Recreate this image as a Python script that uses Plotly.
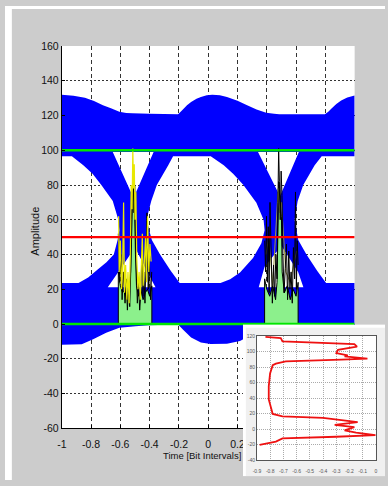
import plotly.graph_objects as go

# ---------------- data ----------------
# outer envelope of the eye diagram
UP_T = [-1.0, -0.92, -0.842, -0.78, -0.719, -0.66, -0.607, -0.56, -0.518, -0.40, -0.206, -0.19, -0.173,
        -0.145, -0.117, -0.08, -0.05, -0.01, 0.028, 0.08, 0.128, 0.20, 0.262, 0.33, 0.396, 0.45, 0.485,
        0.797, 0.82, 0.842, 0.875, 0.908, 0.95, 1.0]
UP_V = [131.9, 131.4, 130.2, 128.3, 125.9, 124.0, 122.2, 121.5, 121.3, 121.0, 120.7, 122.0, 123.5,
        125.9, 127.8, 129.6, 130.6, 131.6, 131.9, 131.6, 130.6, 128.5, 126.0, 123.5, 121.6, 121.0, 120.7,
        120.7, 122.2, 124.1, 126.6, 128.7, 130.3, 131.5]
LO_T = [-1.0, -0.864, -0.786, -0.697, -0.607, -0.496, -0.407, -0.206, -0.173, -0.117, -0.05, 0.017,
        0.128, 0.217, 0.30, 0.39, 0.50, 0.60, 0.79, 0.83, 0.88, 0.95, 1.0]
LO_V = [-11.9, -11.7, -8.8, -5.0, -2.2, -1.3, -0.7, -0.3, -3.1, -7.8, -10.6, -11.5,
        -11.3, -9.7, -6.0, -2.5, -1.3, -0.7, -0.3, -3.0, -7.8, -10.6, -11.5]

# open (white) regions of the eye
LEFT_EYE_T = [-1.0, -0.931, -0.853, -0.79, -0.730, -0.652, -0.614, -0.607, -0.619, -0.645, -0.695,
              -0.753, -0.82, -0.886, -1.0]
LEFT_EYE_V = [96.6, 96.6, 91.4, 86.5, 80.0, 70.8, 60.0, 53.9, 48.3, 40.0, 35.5,
              31.5, 26.8, 23.6, 23.6]
CENTER_EYE_T = [-0.24, 0.017, 0.106, 0.17, 0.239, 0.329, 0.378, 0.385, 0.363, 0.306, 0.217, 0.15,
                0.084, -0.195, -0.255, -0.329, -0.385, -0.422, -0.389, -0.351, -0.273]
CENTER_EYE_V = [96.6, 96.6, 91.4, 86.5, 80.1, 69.8, 60.0, 53.9, 46.5, 38.0, 29.6, 25.8,
                23.6, 23.6, 30.5, 40.0, 48.3, 60.0, 70.8, 80.0, 91.4]
RIGHT_EYE_T = [0.775, 1.0, 1.0, 0.805, 0.745, 0.671, 0.615, 0.59, 0.611, 0.649, 0.727]
RIGHT_EYE_V = [96.6, 96.6, 23.6, 23.6, 30.5, 40.0, 48.3, 60.0, 70.8, 80.0, 91.4]
TOP_TRI1_T = [-0.652, -0.373, -0.51]
TOP_TRI1_V = [99.0, 99.0, 72.6]
TOP_TRI2_T = [0.34, 0.619, 0.49]
TOP_TRI2_V = [99.0, 99.0, 73.6]
BOT_TRI1_T = [-0.686, -0.614, -0.5, -0.385, -0.36]
BOT_TRI1_V = [21.2, 30.0, 44.0, 25.0, 21.2]
BOT_TRI2_T = [0.345, 0.385, 0.5, 0.614, 0.65]
BOT_TRI2_V = [21.2, 33.0, 45.0, 30.0, 21.2]

# jitter histograms at the crossings
FILL1_T = [-0.614, -0.614, -0.600, -0.585, -0.570, -0.555, -0.540, -0.530, -0.525, -0.518, -0.510,
           -0.503, -0.497, -0.490, -0.475, -0.460, -0.445, -0.430, -0.415, -0.400, -0.385, -0.385]
FILL1_V = [0, 30, 22, 18, 20, 14, 18, 30, 60, 75, 78, 70, 40, 22, 16, 20, 14, 18, 20, 16, 22, 0]
YEL1_T = [-0.612, -0.608, -0.600, -0.592, -0.584, -0.578, -0.572, -0.564, -0.556, -0.548, -0.540,
          -0.532, -0.526, -0.520, -0.515, -0.510, -0.505, -0.500, -0.494, -0.488, -0.480, -0.472,
          -0.464, -0.456, -0.450, -0.444, -0.436, -0.428, -0.422, -0.414, -0.406, -0.398, -0.390]
YEL1_V = [62, 30, 48, 20, 36, 70, 18, 34, 14, 30, 12, 40, 80, 66, 101, 78, 92, 60, 76, 38, 20, 30,
          14, 40, 52, 22, 34, 50, 24, 62, 30, 46, 36]
BLK1_T = [-0.614, -0.604, -0.596, -0.588, -0.580, -0.568, -0.560, -0.552, -0.544, -0.536, -0.528,
          -0.522, -0.517, -0.512, -0.507, -0.502, -0.497, -0.490, -0.484, -0.476, -0.468, -0.460,
          -0.452, -0.446, -0.440, -0.432, -0.424, -0.418, -0.410, -0.402, -0.394, -0.386]
BLK1_V = [52, 24, 40, 14, 30, 12, 26, 8, 22, 10, 34, 58, 72, 88, 64, 80, 50, 28, 12, 24, 8, 18,
          44, 16, 30, 12, 40, 64, 20, 36, 14, 30]

FILL2_T = [0.385, 0.385, 0.40, 0.42, 0.44, 0.46, 0.47, 0.475, 0.482, 0.49, 0.50, 0.505, 0.52, 0.54,
           0.56, 0.58, 0.60, 0.614, 0.614]
FILL2_V = [0, 26, 20, 16, 22, 14, 24, 60, 82, 70, 62, 30, 18, 22, 14, 20, 16, 24, 0]
BLK2_T = [0.386, 0.392, 0.398, 0.404, 0.410, 0.416, 0.422, 0.430, 0.438, 0.446, 0.454, 0.462, 0.470,
          0.476, 0.481, 0.486, 0.492, 0.498, 0.504, 0.510, 0.518, 0.526, 0.534, 0.542, 0.550, 0.558,
          0.566, 0.574, 0.582, 0.590, 0.596, 0.602, 0.608, 0.614]
BLK2_V = [48, 30, 62, 24, 56, 18, 70, 28, 12, 34, 16, 40, 26, 70, 101, 82, 60, 88, 74, 40, 18, 32,
          46, 14, 42, 20, 30, 12, 44, 26, 76, 20, 48, 34]
YEL2_T = [0.394, 0.414, 0.440, 0.478, 0.488, 0.500, 0.530, 0.560, 0.588, 0.604]
YEL2_V = [40, 50, 22, 78, 64, 70, 30, 24, 36, 42]

# reference levels
LEVEL_LOW = 0
LEVEL_MID = 50
LEVEL_HIGH = 100

# inset curve
INSET_X = [-0.836, -0.720, -0.707, -0.45, -0.312, -0.163, -0.143, -0.287, -0.299, -0.213, -0.237,
           -0.064, -0.262, -0.682, -0.757, -0.781, -0.801, -0.811, -0.811, -0.794, -0.781, -0.707,
           -0.40, -0.138, -0.312, -0.163, -0.237, -0.150, -0.003, -0.30, -0.707, -0.757, -0.831, -0.880]
INSET_Y = [118.7, 117.1, 112.9, 111.5, 110.8, 109.5, 106.2, 102.0, 97.8, 94.9, 93.6,
           90.7, 89.4, 87.3, 84.4, 82.3, 71.8, 55.1, 38.3, 25.8, 19.5, 16.5,
           14.5, 9.0, 5.5, 2.7, -1.5, -4.4, -7.7, -9.8, -11.9, -16.1, -19.0, -20.3]

MAIN_XTICKS = [-1, -0.8, -0.6, -0.4, -0.2, 0, 0.2, 0.4, 0.6, 0.8, 1]
MAIN_XLABELS = ["-1", "-0.8", "-0.6", "-0.4", "-0.2", "0", "0.2", "0.4", "0.6", "0.8", "1"]
MAIN_YTICKS = [-60, -40, -20, 0, 20, 40, 60, 80, 100, 120, 140, 160]
MAIN_YLABELS = ["-60", "-40", "-20", "0", "20", "40", "60", "80", "100", "120", "140", "160"]
INSET_XTICKS = [-0.9, -0.8, -0.7, -0.6, -0.5, -0.4, -0.3, -0.2, -0.1, 0]
INSET_XLABELS = ["-0.9", "-0.8", "-0.7", "-0.6", "-0.5", "-0.4", "-0.3", "-0.2", "-0.1", "0"]
INSET_YTICKS = [-40, -20, 0, 20, 40, 60, 80, 100, 120]
INSET_YLABELS = ["-40", "-20", "0", "20", "40", "60", "80", "100", "120"]
X_TITLE = "Time [Bit Intervals]"
Y_TITLE = "Amplitude"

# ---------------- helpers ----------------
def signed_area(ts, vs):
    a = 0.0
    n = len(ts)
    for i in range(n):
        j = (i + 1) % n
        a += ts[i] * vs[j] - ts[j] * vs[i]
    return a / 2


def oriented(ts, vs, positive):
    ts, vs = list(ts), list(vs)
    if (signed_area(ts, vs) > 0) != positive:
        ts, vs = ts[::-1], vs[::-1]
    return ts, vs


FONT = "Liberation Sans Narrow, Liberation Sans, Arial, sans-serif"
W, H = 388, 486

fig = go.Figure()

# blue eye with holes
outer_t = UP_T + LO_T[::-1]
outer_v = UP_V + LO_V[::-1]
ot, ov = oriented(outer_t, outer_v, True)
px, py = list(ot), list(ov)
for ht, hv in [(LEFT_EYE_T, LEFT_EYE_V), (CENTER_EYE_T, CENTER_EYE_V), (RIGHT_EYE_T, RIGHT_EYE_V),
               (TOP_TRI1_T, TOP_TRI1_V), (TOP_TRI2_T, TOP_TRI2_V),
               (BOT_TRI1_T, BOT_TRI1_V), (BOT_TRI2_T, BOT_TRI2_V)]:
    a, b = oriented(ht, hv, False)
    px += [None] + a
    py += [None] + b
fig.add_trace(go.Scatter(x=px, y=py, mode="none", fill="toself", fillcolor="#0000FF",
                         xaxis="x", yaxis="y", hoverinfo="skip"))

# histograms
for ft, fv in [(FILL1_T, FILL1_V), (FILL2_T, FILL2_V)]:
    fig.add_trace(go.Scatter(x=ft, y=fv, mode="lines", fill="toself", fillcolor="#8CF08C",
                             line=dict(color="#000000", width=1), xaxis="x", yaxis="y"))
fig.add_trace(go.Scatter(x=BLK1_T, y=BLK1_V, mode="lines", line=dict(color="#000000", width=1)))
fig.add_trace(go.Scatter(x=YEL1_T, y=YEL1_V, mode="lines", line=dict(color="#E8E800", width=1.2)))
fig.add_trace(go.Scatter(x=YEL2_T, y=YEL2_V, mode="lines", line=dict(color="#9A9A40", width=1)))
fig.add_trace(go.Scatter(x=BLK2_T, y=BLK2_V, mode="lines", line=dict(color="#000000", width=1)))

# level lines
for lvl, col, w in [(LEVEL_LOW, "#00E600", 2.5), (LEVEL_HIGH, "#00E600", 2.5), (LEVEL_MID, "#FF0000", 2.2)]:
    fig.add_trace(go.Scatter(x=[MAIN_XTICKS[0], MAIN_XTICKS[-1]], y=[lvl, lvl], mode="lines",
                             line=dict(color=col, width=w)))

# inset panel background (subplot x2/y2)
fig.add_trace(go.Scatter(x=[0.02, 1, 1, 0.02], y=[0, 0, 0.98, 0.98], mode="none", fill="toself",
                         fillcolor="#F0F0F0", xaxis="x2", yaxis="y2", hoverinfo="skip"))
# inset curve (subplot x3/y3)
fig.add_trace(go.Scatter(x=INSET_X, y=INSET_Y, mode="lines", line=dict(color="#EE1111", width=1.8),
                         xaxis="x3", yaxis="y3"))

fig.update_layout(
    width=W, height=H, margin=dict(l=0, r=0, t=0, b=0),
    paper_bgcolor="#CCCCCC", plot_bgcolor="#FFFFFF", showlegend=False,
    font=dict(family=FONT, size=10.5, color="#111111"),
    xaxis=dict(domain=[58 / W, 357 / W], range=[-1, 1], tickvals=MAIN_XTICKS, ticktext=MAIN_XLABELS,
               showgrid=True, gridcolor="#333333", gridwidth=1, griddash="4px,3px",
               showline=True, linecolor="#000000", linewidth=1, ticks="inside", ticklen=3,
               tickcolor="#000000", zeroline=False, tickfont=dict(size=10.5),
               ticklabelstandoff=6),
    yaxis=dict(domain=[(H - 433) / H, (H - 41) / H], range=[-60, 160], tickvals=MAIN_YTICKS,
               ticktext=MAIN_YLABELS, showgrid=True, gridcolor="#333333", gridwidth=1,
               griddash="2px,2px", showline=True, linecolor="#000000", linewidth=1,
               ticks="inside", ticklen=3, tickcolor="#000000", zeroline=False,
               tickfont=dict(size=10.5)),
    xaxis2=dict(domain=[243 / W, 1], range=[0, 1], visible=False, fixedrange=True),
    yaxis2=dict(domain=[(H - 482) / H, (H - 326.7) / H], range=[0, 1], visible=False, fixedrange=True),
    xaxis3=dict(domain=[257.3 / W, 378.7 / W], range=[-0.9, 0], tickvals=INSET_XTICKS,
                ticktext=INSET_XLABELS, showgrid=True, gridcolor="#AAAAAA", griddash="1px,1px",
                gridwidth=0.6, showline=True, mirror=True, linecolor="#555555", linewidth=0.8,
                zeroline=False, ticks="", tickfont=dict(size=5, color="#555555"), anchor="y3",
                ticklabelstandoff=6),
    yaxis3=dict(domain=[(H - 465.7) / H, (H - 338.3) / H], range=[-40, 120], tickvals=INSET_YTICKS,
                ticktext=INSET_YLABELS, showgrid=True, gridcolor="#AAAAAA", griddash="1px,1px",
                gridwidth=0.6, showline=True, mirror=True, linecolor="#555555", linewidth=0.8,
                zeroline=False, ticks="", tickfont=dict(size=5, color="#555555"), anchor="x3"),
    annotations=[
        dict(text=X_TITLE, xref="paper", yref="paper", x=242 / W, y=(H - 461) / H,
             xanchor="right", yanchor="middle", showarrow=False, borderpad=0,
             font=dict(size=9.5, color="#111111")),
        dict(text=Y_TITLE, xref="paper", yref="paper", x=31 / W, y=(H - 231) / H, textangle=-90,
             xanchor="center", yanchor="middle", showarrow=False, font=dict(size=11, color="#111111")),
    ],
    shapes=[
        dict(type="rect", xref="paper", yref="paper", x0=0, x1=7 / W, y0=0, y1=1,
             fillcolor="#FFFFFF", line=dict(width=0), layer="below"),
        dict(type="rect", xref="paper", yref="paper", x0=0, x1=1, y0=1 - 3 / H, y1=1,
             fillcolor="#FFFFFF", line=dict(width=0), layer="below"),
    ],
)

fig.write_html("out.html")
with open("out.html", "r", encoding="utf-8") as fh:
    html = fh.read()
html = html.replace("<head>", "<head><style>html,body{margin:0;padding:0;background:#CCCCCC;}</style>", 1)
with open("out.html", "w", encoding="utf-8") as fh:
    fh.write(html)
